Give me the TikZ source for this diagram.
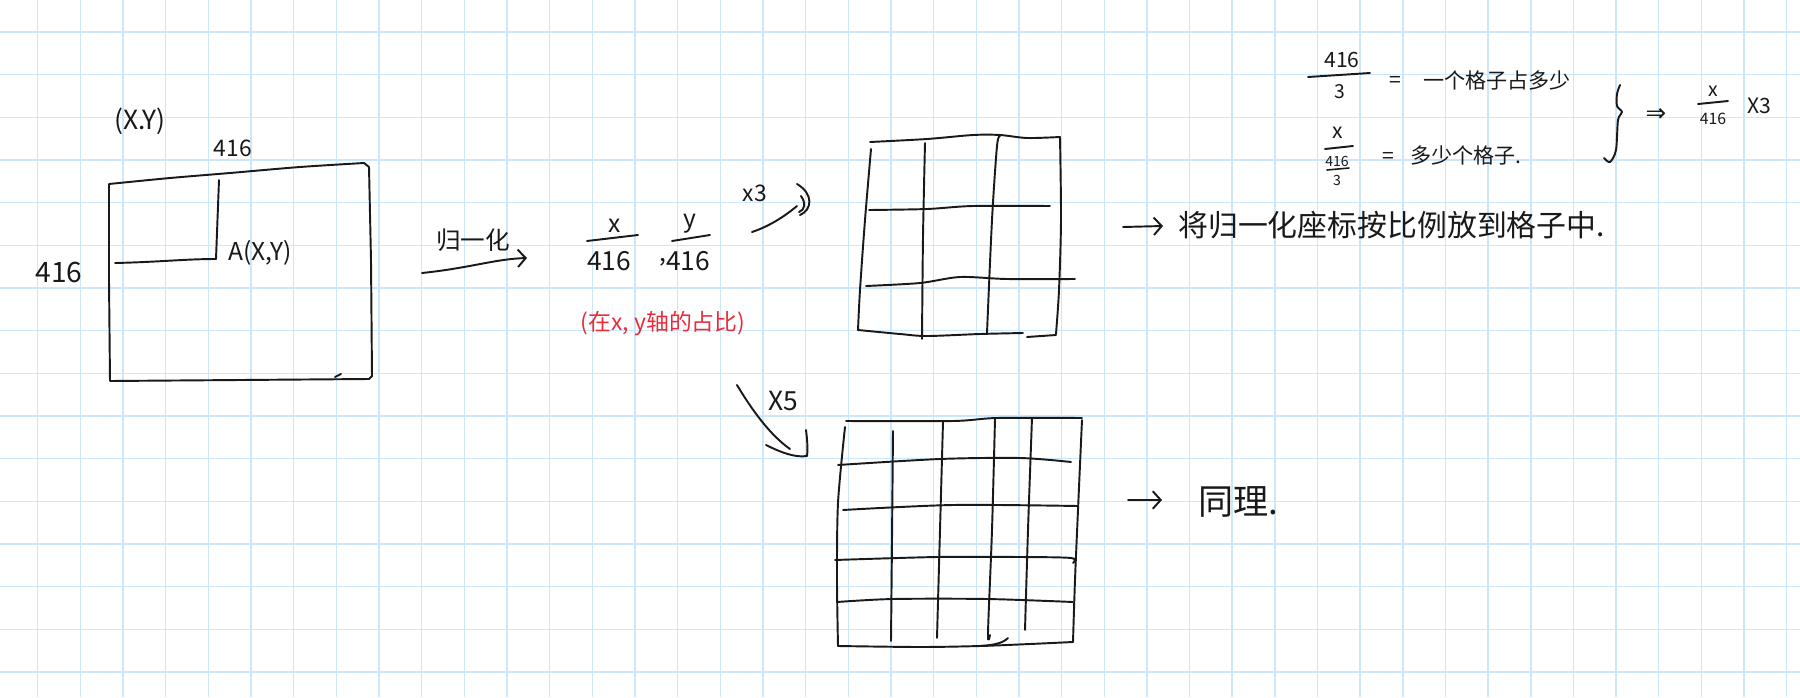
\documentclass[tikz,border=0pt]{standalone}
\usepackage{fontspec}
\setmainfont{Noto Sans CJK SC}
\newfontfamily\symfont{DejaVu Sans}
\usetikzlibrary{arrows.meta}
\definecolor{gridblue}{RGB}{204,230,250}
\definecolor{ink}{RGB}{25,25,25}
\definecolor{inkred}{RGB}{230,45,60}
\newcommand{\fs}[1]{\fontsize{#1pt}{#1pt}\selectfont}
\begin{document}
\begin{tikzpicture}[x=0.02cm,y=-0.02cm,
  pen/.style={draw=ink,line width=1.1pt,line cap=round,line join=round},
  lbl/.style={inner sep=0pt,text=ink},
  barb/.style={-{Straight Barb[length=4.5pt,width=10pt,line width=1.1pt]}}]
\useasboundingbox (0,0) rectangle (1800,697);
\fill[white] (0,0) rectangle (1800,697);
% paper grid
\foreach \i in {0,...,41} \draw[gridblue,line width=0.8pt] ({37.7+42.66*\i},0) -- ({37.7+42.66*\i},697);
\foreach \j in {0,...,15} \draw[gridblue,line width=0.8pt] (0,{32+42.66*\j}) -- (1800,{32+42.66*\j});

% ---------- image box 416 x 416 ----------
\coordinate (r1tl) at (109,183);
\coordinate (r1tr) at (369,164);
\coordinate (r1br) at (372,378);
\coordinate (r1bl) at (110,381);
\draw[pen] plot[smooth] coordinates {(109,184) (170,178) (230,173) (300,167) (364,163)}
  -- (369,167) -- (371,260) -- (372,376) -- (369,379)
  -- (240,380) -- (110,381) -- (109,280) -- (109,184);
\draw[pen] (335,377) -- (341,374);
\coordinate (pA) at (216,259);
\draw[pen] (219,180) -- (pA);
\draw[pen] (115,263) .. controls (160,262) and (185,259) .. (pA);
\node[lbl,font=\fs{15}] (xy) at (140,121) {(X.Y)};
\node[lbl,font=\fs{13}] (wtop) at (233,148) {416};
\node[lbl,font=\fs{16}] (hleft) at (59,272) {416};
\node[lbl,font=\fs{14},anchor=west] (Alab) at (228,253) {A(X,Y)};

% ---------- normalisation arrow ----------
\coordinate (n1) at (422,273);
\coordinate (n2) at (527,258);
\draw[pen,barb] (n1) .. controls (470,268) and (495,259) .. (n2);
\node[lbl,font=\fs{14}] (norm) at (473,240) {归一化};

% fractions x/416 , y/416
\draw[pen] (587,241) -- (638,235);
\node[lbl,font=\fs{14}] (fx) at (615,226) {x};
\node[lbl,font=\fs{15}] (fxd) at (609,261) {416};
\draw[pen] (672,241) -- (710,235);
\node[lbl,font=\fs{14}] (fy) at (690,224) {y};
\node[lbl,font=\fs{15}] (fyd) at (688,261) {416};
\node[lbl,font=\fs{14}] (comma) at (663,262) {,};
\node[lbl,font=\fs{13},text=inkred] (note) at (663,324) {(在x, y轴的占比)};

% ---------- x3 arrow ----------
\coordinate (t1) at (752,232);
\coordinate (t2) at (797,206);
\draw[pen] (t1) .. controls (770,226) and (785,216) .. (t2);
\draw[pen] (797,184) .. controls (814,194) and (812,210) .. (800,215);
\draw[pen] (801,196) .. controls (806,203) and (805,210) .. (799,212);
\node[lbl,font=\fs{13}] (x3) at (755,193) {x3};

% ---------- 3x3 grid ----------
\coordinate (g3tl) at (870,142);
\coordinate (g3br) at (1056,335);
\draw[pen] plot[smooth] coordinates {(870,142) (927,139) (973,135) (1000,135) (1027,138) (1060,137)};
\draw[pen] plot[smooth] coordinates {(1060,137) (1061,220) (1059,290) (1056,334)};
\draw[pen] plot[smooth] coordinates {(871,149) (865,220) (860,290) (858,330)};
\draw[pen] plot[smooth] coordinates {(858,330) (900,334) (927,336) (980,334) (1023,333)};
\draw[pen] (1027,337) -- (1056,335);
\draw[pen] plot[smooth] coordinates {(925,143) (923,237) (922,339)};
\draw[pen] plot[smooth] coordinates {(1000,136) (997,146) (992,220) (987,333)};
\draw[pen] plot[smooth] coordinates {(869,210) (927,209) (973,206) (1050,206)};
\draw[pen] plot[smooth] coordinates {(866,286) (920,283) (960,277) (1007,279) (1075,279)};

% ---------- x5 arrow ----------
\coordinate (f1) at (737,385);
\coordinate (f2) at (790,449);
\draw[pen] (f1) .. controls (752,410) and (770,435) .. (f2);
\draw[pen] (766,445) .. controls (780,452) and (795,458) .. (807,456) .. controls (808,448) and (807,438) .. (806,430);
\node[lbl,font=\fs{15}] (x5) at (783,401) {X5};

% ---------- 5x5 grid ----------
\coordinate (g5tl) at (846,421);
\coordinate (g5br) at (1073,642);
\draw[pen] plot[smooth] coordinates {(846,421) (953,421) (997,418) (1082,418)};
\draw[pen] plot[smooth] coordinates {(1082,420) (1078,510) (1075,580) (1073,642)};
\draw[pen] plot[smooth] coordinates {(845,427) (838,503) (837,580) (838,646)};
\draw[pen] plot[smooth] coordinates {(838,646) (920,647) (980,646) (1030,644) (1073,642)};
\draw[pen] (980,646) .. controls (995,645) and (1003,643) .. (1008,638);
\draw[pen] plot[smooth] coordinates {(893,431) (892,540) (891,641)};
\draw[pen] plot[smooth] coordinates {(943,422) (940,530) (937,638)};
\draw[pen] plot[smooth] coordinates {(995,419) (992,530) (988,633) (990,635)};
\draw[pen] plot[smooth] coordinates {(1032,418) (1028,530) (1025,630)};
\draw[pen] plot[smooth] coordinates {(838,465) (940,459) (1020,458) (1071,462)};
\draw[pen] plot[smooth] coordinates {(843,510) (953,505) (1078,506)};
\draw[pen] plot[smooth] coordinates {(835,560) (937,557) (1020,557) (1071,558) (1073,563)};
\draw[pen] plot[smooth] coordinates {(837,602) (893,599) (987,599) (1073,602)};

% ---------- right-hand notes ----------
\coordinate (a1) at (1123,227);
\coordinate (a2) at (1163,226);
\draw[pen,barb] (a1) -- (a2);
\node[lbl,font=\fs{17},anchor=west] (n3) at (1178,225) {将归一化座标按比例放到格子中.};
\coordinate (b1) at (1128,500);
\coordinate (b2) at (1162,500);
\draw[pen,barb] (b1) -- (b2);
\node[lbl,font=\fs{20},anchor=west] (n5) at (1198,502) {同理.};

% ---------- top-right formulas ----------
\draw[pen] (1308,77) -- (1370,73);
\node[lbl,font=\fs{12}] (t416) at (1342,60) {416};
\node[lbl,font=\fs{11}] (t3) at (1340,92) {3};
\node[lbl,font=\fs{12}] (teq1) at (1395,82) {=};
\node[lbl,font=\fs{12},anchor=west] (tcell) at (1423,80) {一个格子占多少};
\draw[pen] (1325,149) -- (1353,146);
\node[lbl,font=\fs{12}] (tx) at (1338,133) {x};
\node[lbl,font=\fs{8}] (t416b) at (1337,161) {416};
\draw[pen,line width=0.9pt] (1327,170) -- (1349,168);
\node[lbl,font=\fs{8}] (t3b) at (1337,180) {3};
\node[lbl,font=\fs{12}] (teq2) at (1388,158) {=};
\node[lbl,font=\fs{12},anchor=west] (tnum) at (1410,155) {多少个格子.};
\draw[pen] plot[smooth] coordinates {(1620,85) (1617,94) (1617,106) (1622,112) (1618,120) (1616,150) (1610,162) (1604,158)};
\node[lbl,font={\symfont\fs{14}}] (impl) at (1656,115) {⇒};
\draw[pen] (1698,104) -- (1728,101);
\node[lbl,font=\fs{11}] (rx) at (1713,91) {x};
\node[lbl,font=\fs{9}] (r416) at (1713,119) {416};
\node[lbl,font=\fs{12}] (rx3) at (1759,106) {X3};
\end{tikzpicture}
\end{document}
